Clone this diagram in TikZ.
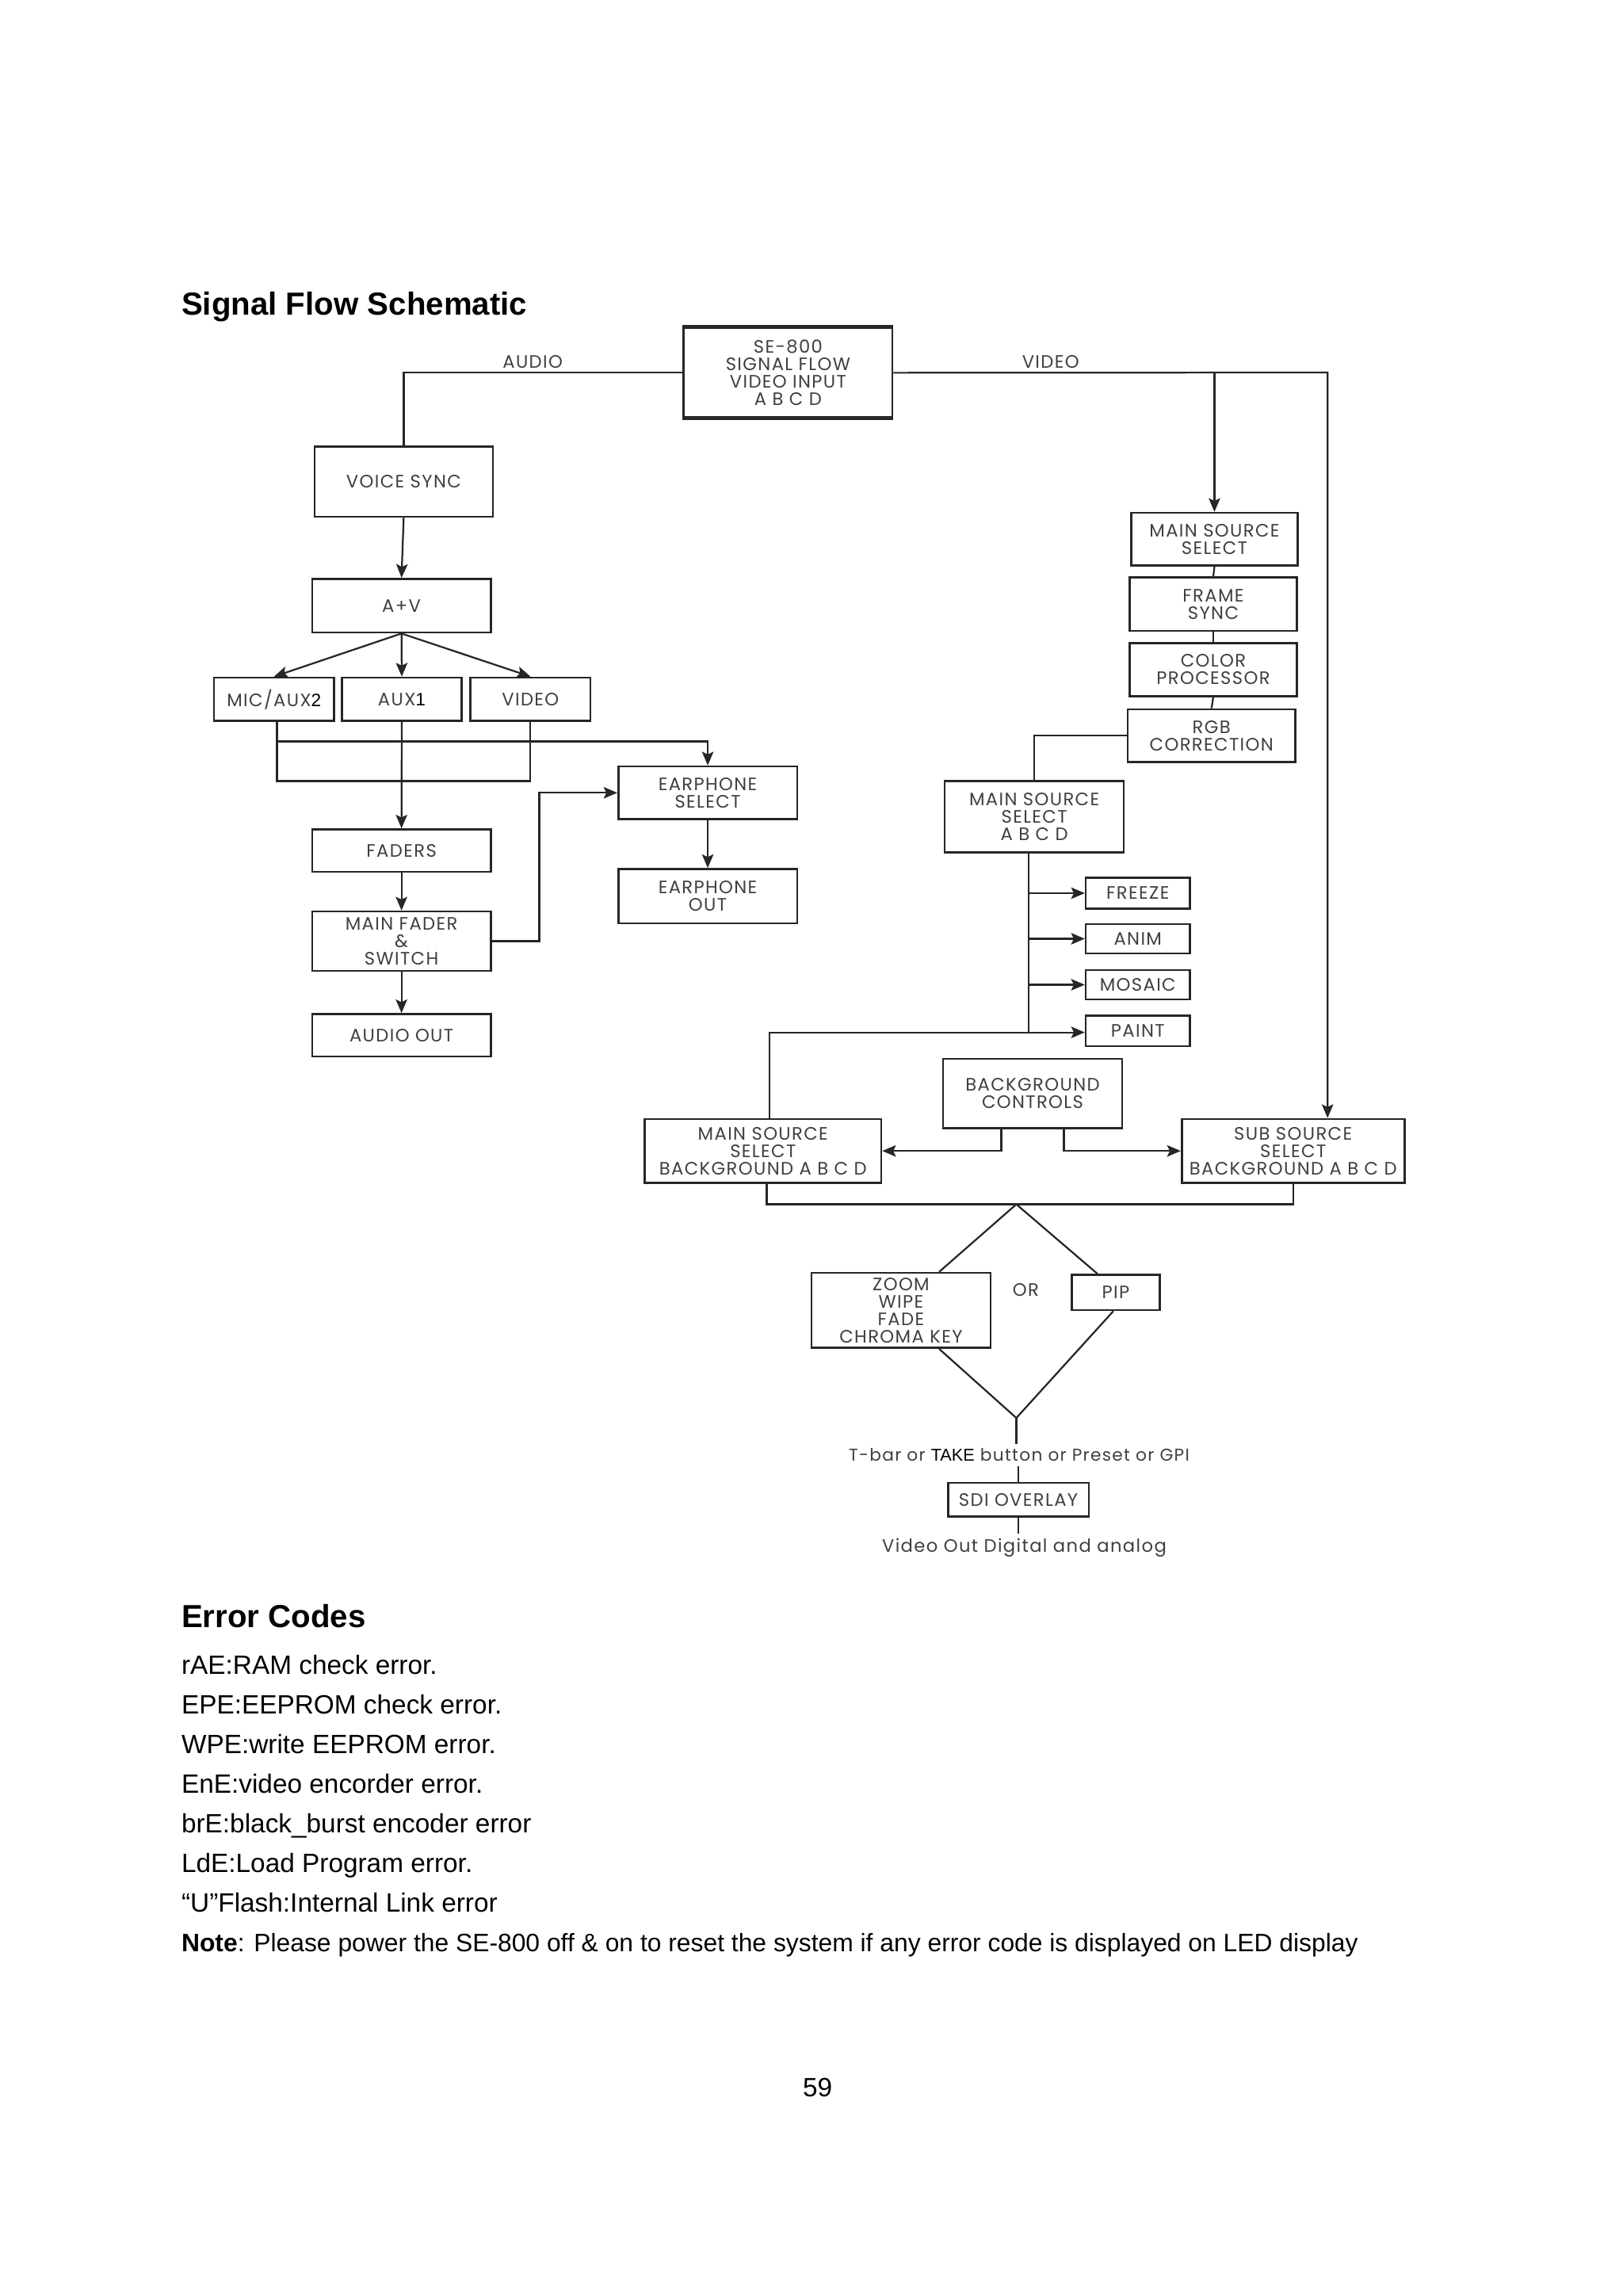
\documentclass[tikz,border=0pt]{standalone}
\usepackage{fontspec}
\setmainfont{Liberation Sans}
\newfontfamily\dgfont[LetterSpace=6]{Poppins}
\usetikzlibrary{arrows.meta,fit,calc}
\definecolor{dk}{HTML}{262626}
\definecolor{tx}{HTML}{404040}
\newcommand\bx[6]{%
  \node[box,fit={(#2,#3) (#4,#5)}] (#1) {};
  \node[lbl] (#1t) at (#1.center) {#6};}
\begin{document}
\begin{tikzpicture}[x=0.53745pt,y=-0.53745pt,
  box/.style={draw=dk, line width=0.75pt, inner sep=0pt},
  ln/.style={draw=dk, line width=0.65pt},
  arr/.style={ln, -{Stealth[length=5pt,width=4.2pt,inset=1pt]}},
  lbl/.style={font=\dgfont\fontsize{6.6}{6.4}\selectfont, text=tx, align=center, inner sep=1pt},
  captxt/.style={font=\dgfont\fontsize{6.6}{6.4}\selectfont, text=tx, inner sep=1.5pt},
  txt/.style={font=\fontsize{9.7}{11}\selectfont, inner sep=0pt, anchor=base west},
  hd/.style={font=\bfseries\fontsize{11.7}{13}\selectfont, inner sep=0pt, anchor=base west}]
\useasboundingbox (0,0) rectangle (1107.6,1566.8);
\fill[white] (0,0) rectangle (1107.6,1566.8);

% headings and text
\node[hd] (title) at (123.5,215) {Signal Flow Schematic};
\node[hd] (errh) at (123.5,1110.5) {Error Codes};
\node[txt] (e1) at (123.5,1142.5) {rAE:RAM check error.};
\node[txt] (e2) at (123.5,1169.5) {EPE:EEPROM check error.};
\node[txt] (e3) at (123.5,1196.5) {WPE:write EEPROM error.};
\node[txt] (e4) at (123.5,1223.5) {EnE:video encorder error.};
\node[txt] (e5) at (123.5,1250.5) {brE:black\_burst encoder error};
\node[txt] (e6) at (123.5,1277.5) {LdE:Load Program error.};
\node[txt] (e7) at (123.5,1304.5) {“U”Flash:Internal Link error};
\node[txt, font=\fontsize{9.25}{11}\selectfont] (e8) at (123.5,1331.6) {\textbf{Note}: Please power the SE-800 off \& on to reset the system if any error code is displayed on LED display};
\node[font=\fontsize{9.7}{11}\selectfont, inner sep=0pt, anchor=base] (pg) at (558,1430.5) {59};

% boxes
\bx{se}{466.6}{223.9}{609}{284.9}{SE-800\\SIGNAL FLOW\\VIDEO INPUT\\A B C D}
\draw[dk, line width=1.4pt] (se.north west) -- (se.north east);
\draw[dk, line width=1.4pt] (se.south west) -- (se.south east);
\bx{vs}{214.6}{304.8}{336.4}{352.6}{VOICE SYNC}
\bx{av}{213}{395}{335}{431.6}{A+V}
\bx{mic}{146}{462.4}{228}{492}{MIC/AUX{\rmfamily\color{black}2}}
\bx{aux}{233.4}{462.4}{315}{492}{AUX{\rmfamily\color{black}1}}
\bx{vid}{321}{462.4}{403}{492}{VIDEO}
\bx{esel}{422}{523}{544}{559}{EARPHONE\\SELECT}
\bx{eout}{422}{593}{544}{630}{EARPHONE\\OUT}
\bx{fad}{213}{566}{335}{595}{FADERS}
\bx{mf}{213}{622}{335}{662.5}{MAIN FADER\\\&\\SWITCH}
\bx{ao}{213}{692}{335}{721}{AUDIO OUT}
\bx{mss}{772}{350}{885.6}{386}{MAIN SOURCE\\SELECT}
\bx{fs}{771}{394}{885}{430.5}{FRAME\\SYNC}
\bx{cp}{771}{439}{885}{475}{COLOR\\PROCESSOR}
\bx{rgb}{769.6}{484}{884}{520}{RGB\\CORRECTION}
\bx{msa}{644.7}{533}{767}{581.6}{MAIN SOURCE\\SELECT\\A B C D}
\bx{frz}{741}{599}{812}{620}{FREEZE}
\bx{anm}{741}{630.6}{812}{650.6}{ANIM}
\bx{mos}{741}{662}{812}{682}{MOSAIC}
\bx{pnt}{741}{693}{812}{714}{PAINT}
\bx{bgc}{643.6}{722.6}{765.8}{770}{BACKGROUND\\CONTROLS}
\bx{msb}{440}{763.6}{601.4}{807.2}{MAIN SOURCE\\SELECT\\BACKGROUND A B C D}
\bx{ssb}{806.5}{763.6}{958.5}{807.2}{SUB SOURCE\\SELECT\\BACKGROUND A B C D}
\bx{zm}{553.8}{868.6}{676}{919.8}{ZOOM\\WIPE\\FADE\\CHROMA KEY}
\bx{pip}{731.6}{870}{791.4}{894}{PIP}
\bx{sdi}{647}{1012}{743}{1035}{SDI OVERLAY}

% free captions
\node[captxt] (laud) at (363.5,247) {AUDIO};
\node[captxt] (lvid) at (717,247) {VIDEO};
\node[captxt] (lor) at (700,880) {OR};
\node[captxt, font=\dgfont\fontsize{6.3}{6.4}\selectfont] (tbar) at (695.5,993) {T-bar or {\rmfamily\color{black}TAKE} button or Preset or GPI};
\node[captxt] (vout) at (699,1056) {Video Out Digital and analog};

% audio side
\coordinate (vr) at (906,254.2);
\draw[ln] (se.west) -| (vs.north);
\draw[arr] (vs.south) -- (av.north);
\draw[arr] (av.south) -- (mic.north);
\draw[arr] (av.south) -- (aux.north);
\draw[arr] (av.south) -- (vid.north);
\coordinate (j1) at (189,533);
\coordinate (j2) at (189,506);
\draw[ln] (j1 |- mic.south) -- (j1) -| (vid.south);
\draw[arr] (j2) -| (esel.north);
\draw[arr] (aux.south) -- (fad.north);
\draw[arr] (fad.south) -- (mf.north);
\draw[arr] (mf.south) -- (ao.north);
\coordinate (j3) at (368,600);
\draw[arr] (mf.east) -- (mf.east -| j3) |- (esel.west);
\draw[arr] (esel.south) -- (eout.north);

% video side
\draw[arr] (se.east) -- (vr) -- (vr |- ssb.north);
\draw[arr] (se.east -| mss.north) -- (mss.north);
\draw[ln] (mss.south) -- (fs.north);
\draw[ln] (fs.south) -- (cp.north);
\draw[ln] (cp.south) -- (rgb.north);
\draw[ln] (rgb.west) -| (msa.north);
\coordinate (trk) at (702,704.5);
\draw[ln] (trk |- msa.south) -- (trk);
\draw[arr] (trk |- frz.west) -- (frz.west);
\draw[arr] (trk |- anm.west) -- (anm.west);
\draw[arr] (trk |- mos.west) -- (mos.west);
\draw[arr] (trk) -- (trk -| pnt.west);
\coordinate (j4) at (525,704.5);
\draw[ln] (trk) -- (j4) -- (j4 |- msb.north);
\draw[arr] ([xshift=-11.5pt]bgc.south) |- (msb.east);
\draw[arr] ([xshift=11.5pt]bgc.south) |- (ssb.west);
\coordinate (dt) at (693.6,821.8);
\coordinate (db) at (693.6,967.6);
\draw[ln] ([xshift=1.4pt]msb.south) |- (dt);
\draw[ln] (ssb.south) |- (dt);
\draw[ln] (dt) -- ([xshift=14pt]zm.north);
\draw[ln] (dt) -- ([xshift=-6.7pt]pip.north);
\draw[ln] ([xshift=14pt]zm.south) -- (db);
\draw[ln] ([xshift=-0.9pt]pip.south) -- (db);
\draw[ln] (db) -- (db |- tbar.north);
\draw[ln] (sdi.north |- tbar.south) -- (sdi.north);
\draw[ln] (sdi.south) -- (sdi.south |- vout.north);
\end{tikzpicture}
\end{document}
